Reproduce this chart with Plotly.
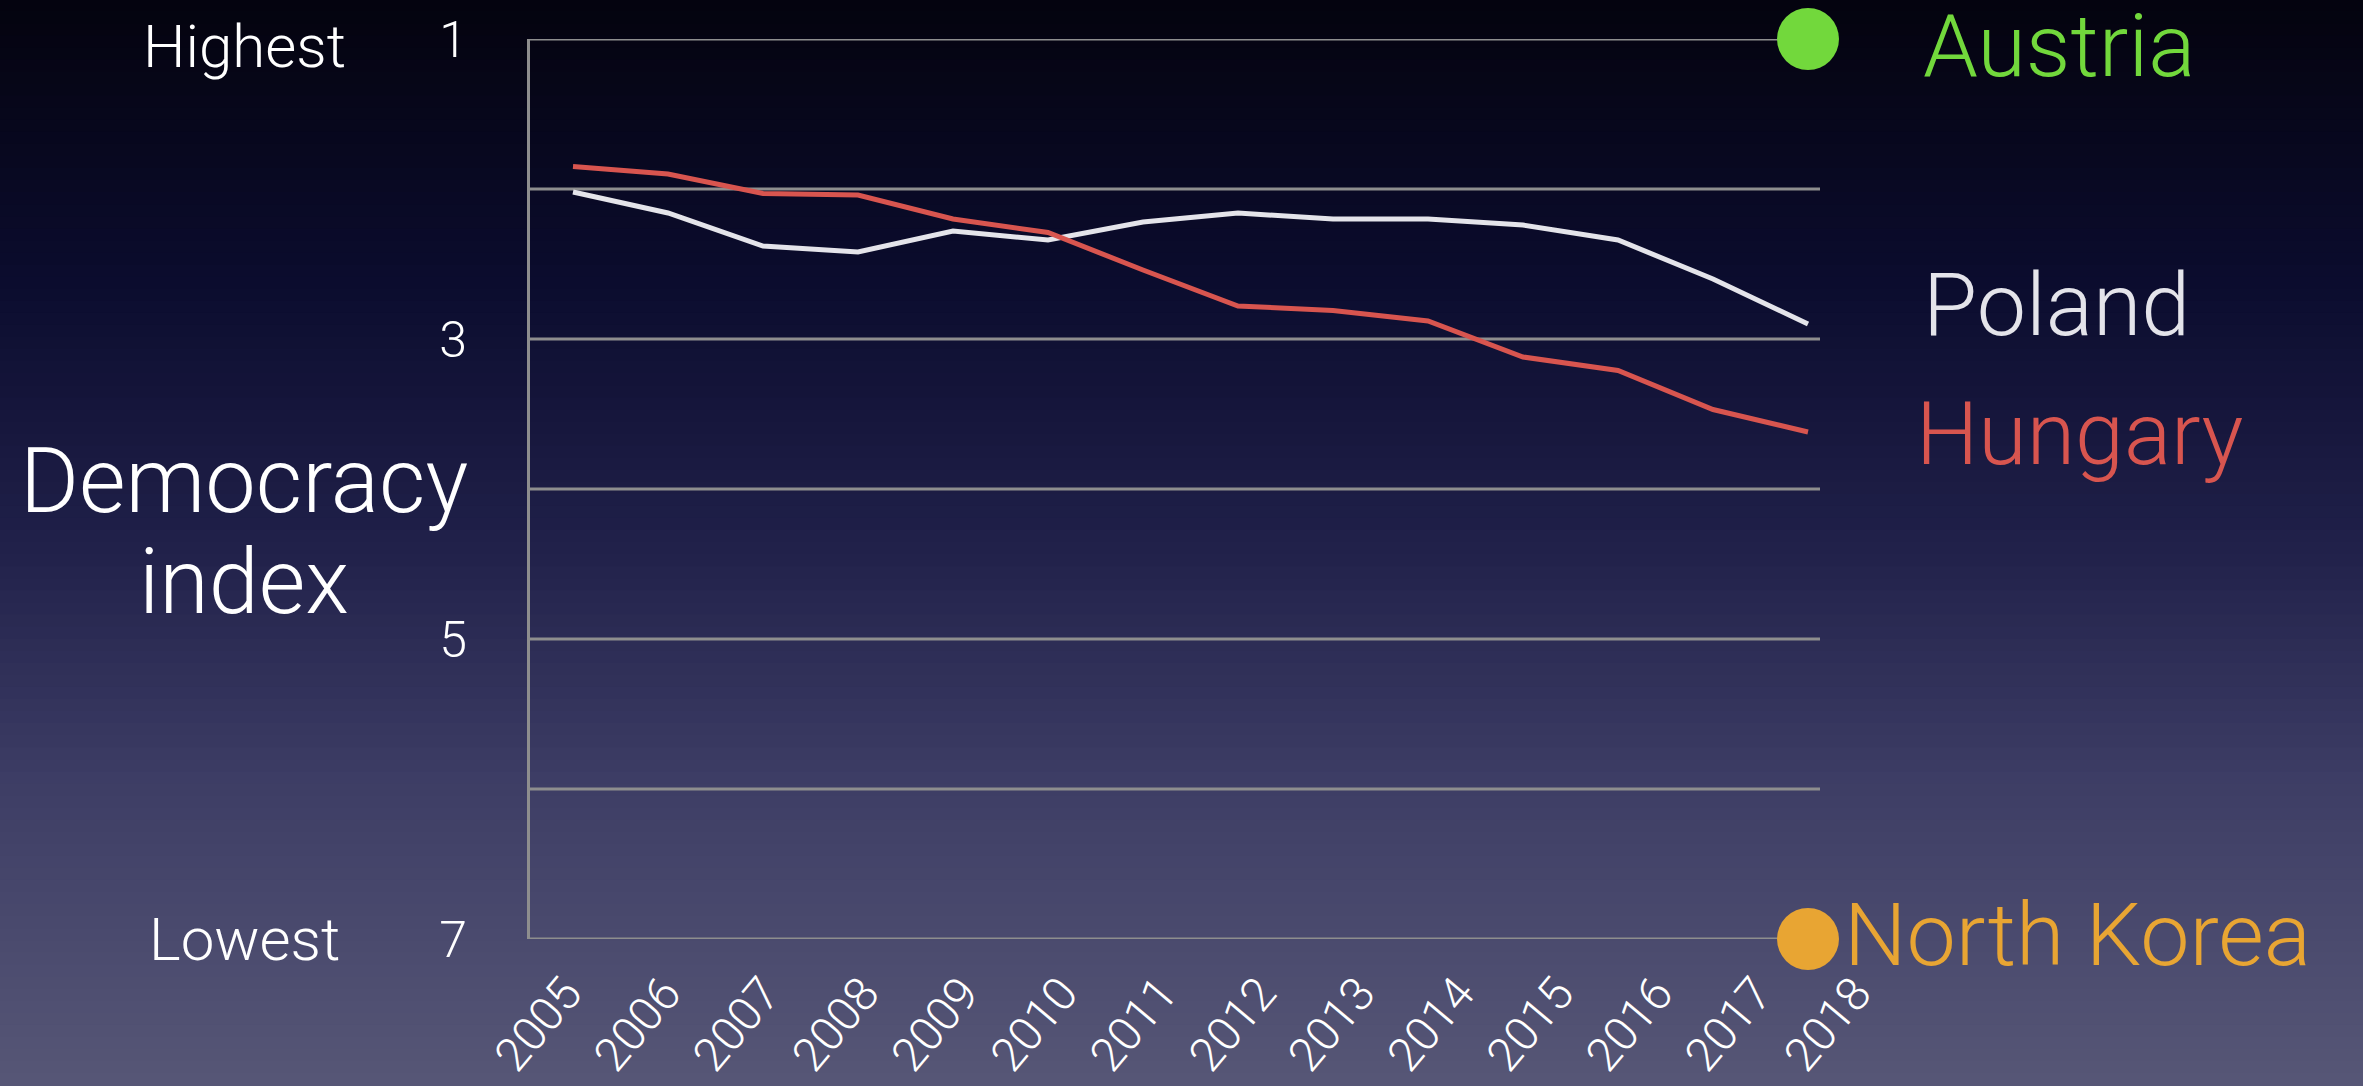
import plotly.graph_objects as go

# democracy index rank (1 = highest, 7 = lowest)
years = list(range(2005, 2019))
hungary = [1.85, 1.90, 2.03, 2.04, 2.20, 2.29, 2.54, 2.78, 2.81, 2.88, 3.12, 3.21, 3.47, 3.62]
poland = [2.02, 2.16, 2.38, 2.42, 2.28, 2.34, 2.22, 2.16, 2.20, 2.20, 2.24, 2.34, 2.60, 2.90]

ref_names = ["Austria", "North Korea"]
ref_years = [2018, 2018]
ref_values = [1, 7]
ref_colors = ["#72d83c", "#e8a533"]

y_ticks = [1, 2, 3, 4, 5, 6, 7]
y_ticktext = ["1", "", "3", "", "5", "", "7"]

FONT = "Roboto"
W, H = 2363, 1086
L, R, T, B = 530, 483, 39, 147
PW, PH = W - L - R, H - T - B

# background gradient (top -> bottom)
bg_stops = [(0.0, (4, 3, 14)), (0.26, (11, 12, 46)), (0.49, (31, 31, 72)),
            (0.72, (61, 61, 101)), (1.0, (86, 86, 118))]


def _grad(t):
    for (p0, c0), (p1, c1) in zip(bg_stops[:-1], bg_stops[1:]):
        if p0 <= t <= p1:
            f = (t - p0) / (p1 - p0)
            return "rgb(%d,%d,%d)" % tuple(round(a + (b - a) * f) for a, b in zip(c0, c1))
    return "rgb(%d,%d,%d)" % bg_stops[-1][1]


def px_x(px):
    return (px - L) / PW


def px_y(py):
    return (H - B - py) / PH


shapes = []
n_bands = 90
for i in range(n_bands):
    top = i * H / n_bands
    bot = (i + 1) * H / n_bands + 1
    shapes.append(dict(type="rect", xref="paper", yref="paper",
                       x0=px_x(-5), x1=px_x(W + 5), y0=px_y(bot), y1=px_y(top - 1),
                       fillcolor=_grad((i + 0.5) / n_bands), line_width=0, layer="below"))

for v in y_ticks:
    shapes.append(dict(type="line", xref="x domain", yref="y", x0=0, x1=(1820 - L) / PW,
                       y0=v, y1=v, line=dict(color="#8e8e8e", width=3), layer="below"))

fig = go.Figure()
fig.add_trace(go.Scatter(x=years, y=poland, mode="lines", name="Poland",
                         line=dict(color="#e4e4ea", width=5)))
fig.add_trace(go.Scatter(x=years, y=hungary, mode="lines", name="Hungary",
                         line=dict(color="#d8554f", width=5)))
fig.add_trace(go.Scatter(x=ref_years, y=ref_values, mode="markers", name="refs",
                         marker=dict(color=ref_colors, size=62, line_width=0), cliponaxis=False))
# carries the year tick labels
fig.add_trace(go.Scatter(x=years, y=[None] * len(years), xaxis="x2", mode="lines",
                         hoverinfo="skip", showlegend=False))


def label(text, px, y, size, color, anchor="left"):
    return dict(text=text, xref="paper", yref="y", x=px_x(px), y=y, xanchor=anchor,
                yanchor="middle", showarrow=False, font=dict(size=size, color=color))


annotations = [
    label("Highest", 244, 1.05, 60, "white", "center"),
    label("Lowest", 244, 7.0, 60, "white", "center"),
    label("Democracy", 244, 3.95, 90, "white", "center"),
    label("index", 244, 4.62, 90, "white", "center"),
    label("Austria", 1921, 1.04, 88, ref_colors[0]),
    label("Poland", 1921, 2.77, 88, "#e4e4ea"),
    label("Hungary", 1914, 3.63, 88, "#d8554f"),
    label("North Korea", 1842, 6.97, 88, ref_colors[1]),
]

fig.update_layout(
    width=W, height=H,
    margin=dict(l=L, r=R, t=T, b=B, autoexpand=False),
    paper_bgcolor="#05040f",
    plot_bgcolor="rgba(0,0,0,0)",
    font=dict(family=FONT, color="white", weight=300),
    showlegend=False,
    shapes=shapes,
    annotations=annotations,
    xaxis=dict(range=[2005 - 43 / 95, 2005 + (L + PW - 573) / 95], showgrid=False,
               zeroline=False, showline=False, showticklabels=False, ticks="",
               automargin=False),
    xaxis2=dict(overlaying="x", anchor="y", side="bottom",
                range=[2005 - 36 / 99.2, 2005 + (L + PW - 566) / 99.2],
                tickvals=years, ticktext=[str(y) for y in years], tickangle=-50,
                tickfont=dict(size=47, color="white"), showgrid=False, zeroline=False,
                showline=False, ticks="", ticklabelstandoff=16, automargin=False),
    yaxis=dict(range=[7, 1], tickvals=y_ticks, ticktext=y_ticktext, showgrid=False,
               zeroline=False, showline=True, linecolor="#8e8e8e", linewidth=3, ticks="",
               tickfont=dict(size=50, color="white"), ticklabelstandoff=50,
               automargin=False),
)

fig.write_html("out.html", config={"displayModeBar": False},
               post_script="document.body.style.margin='0';"
                           "document.body.style.background='#04030e';")
